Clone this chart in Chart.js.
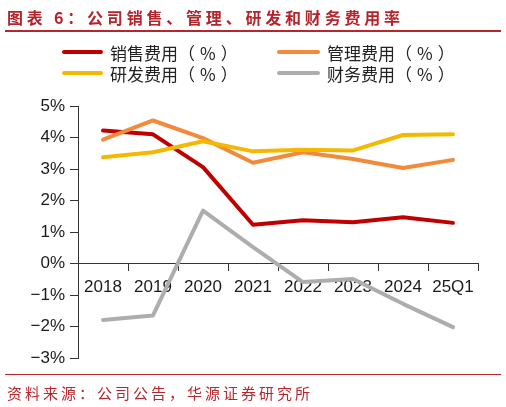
<!DOCTYPE html>
<html>
<head>
<meta charset="utf-8">
<script src="https://cdn.jsdelivr.net/npm/chart.js@4.4.1/dist/chart.umd.min.js"></script>
<style>
  html, body { margin: 0; padding: 0; background: #fff; }
  #wrap { position: relative; width: 506px; height: 407px; overflow: hidden; }
  #chart { position: absolute; left: 0; top: 0; }
  .title { position: absolute; left: 7px; top: 5px; line-height: 22px; font: bold 16px "Noto Sans CJK SC"; letter-spacing: 3.8px; color: #b5232b; white-space: nowrap; }
  .rule { position: absolute; left: 5px; width: 496px; background: #b8262c; }
  .legend-item { position: absolute; height: 20px; display: flex; align-items: center; font: 17px "Noto Sans CJK SC"; color: #222; white-space: nowrap; }
  .legend-item i { display: inline-block; height: 4px; border-radius: 2px; margin-right: 7px; }
  .legend-item b { font-weight: normal; margin: 0 5px; }
  .source { position: absolute; left: 7px; top: 382px; line-height: 22px; font: 15px "Noto Sans CJK SC"; letter-spacing: 3px; color: #b8262c; white-space: nowrap; }
</style>
</head>
<body>
<div id="wrap">
  <canvas id="chart" width="506" height="407"></canvas>
  <div class="title">图表 6：公司销售、管理、研发和财务费用率</div>
  <div class="rule" style="top:30px;height:2px;"></div>
  <div id="legend"></div>
  <div class="rule" style="top:374px;height:1px;"></div>
  <div class="source">资料来源：公司公告，华源证券研究所</div>
</div>
<script>
// values, in percent
const categories = ['2018', '2019', '2020', '2021', '2022', '2023', '2024', '25Q1'];
const salesRate = [4.22, 4.10, 3.06, 1.23, 1.37, 1.31, 1.47, 1.29];
const adminRate = [3.93, 4.54, 3.98, 3.20, 3.53, 3.32, 3.03, 3.29];
const rndRate = [3.37, 3.53, 3.88, 3.56, 3.61, 3.59, 4.08, 4.10];
const financeRate = [-1.79, -1.65, 1.68, 0.52, -0.59, -0.49, -1.28, -2.02];
const yTicks = [-3, -2, -1, 0, 1, 2, 3, 4, 5];

const seriesNames = ['销售费用', '管理费用', '研发费用', '财务费用'];
const seriesColors = ['#c00000', '#f28a3a', '#f5b800', '#adadad'];
// drawing order: yellow on top, gray at the bottom
const seriesOrder = [2, 1, 0, 3];
const seriesData = [salesRate, adminRate, rndRate, financeRate];

const legendSpots = [
    { left: 62, top: 42, line: 41 },
    { left: 277, top: 42, line: 43 },
    { left: 62, top: 63, line: 41 },
    { left: 277, top: 63, line: 43 }
];

function renderLegend() {
    const legend = document.getElementById('legend');
    legend.innerHTML = seriesNames.map((name, i) => {
        const spot = legendSpots[i];
        return `<div class="legend-item" style="left:${spot.left}px;top:${spot.top}px;">
                    <i style="width:${spot.line}px;background:${seriesColors[i]};"></i>${name}（<b>%</b>）
                </div>`;
    }).join('');
}

function formatPercent(v) {
    return (v < 0 ? '\u2212' : '') + Math.abs(v) + '%';
}

function renderChart() {
    const ctx = document.getElementById('chart').getContext('2d');
    const axisColor = '#333';
    const tickFont = { family: '"Liberation Sans", Arial, sans-serif', size: 17 };

    return new Chart(ctx, {
        type: 'line',
        data: {
            labels: categories,
            datasets: seriesData.map((values, i) => ({
                label: seriesNames[i] + '（%）',
                data: values,
                borderColor: seriesColors[i],
                backgroundColor: seriesColors[i],
                borderWidth: 4,
                pointRadius: 0,
                tension: 0,
                fill: false,
                order: seriesOrder[i],
                borderJoinStyle: 'round',
                borderCapStyle: 'round'
            }))
        },
        options: {
            responsive: false,
            animation: false,
            layout: { padding: { left: 18, right: 28, top: 106, bottom: 49 } },
            plugins: { legend: { display: false }, tooltip: { enabled: false } },
            scales: {
                x: {
                    position: { y: 0 },
                    offset: true,
                    grid: { offset: true, drawOnChartArea: false, tickLength: 7, color: axisColor },
                    border: { color: axisColor, width: 1 },
                    ticks: { font: tickFont, color: '#1a1a1a', padding: 7, maxRotation: 0, autoSkip: false }
                },
                y: {
                    min: -3,
                    max: 5,
                    afterFit: scale => { scale.width = 60; },
                    afterBuildTicks: scale => { scale.ticks = yTicks.map(v => ({ value: v })); },
                    grid: { drawOnChartArea: false, tickLength: 8, color: axisColor },
                    border: { color: axisColor, width: 1 },
                    ticks: { font: tickFont, color: '#1a1a1a', padding: 5, callback: formatPercent }
                }
            }
        }
    });
}

renderLegend();
renderChart();
</script>
</body>
</html>
